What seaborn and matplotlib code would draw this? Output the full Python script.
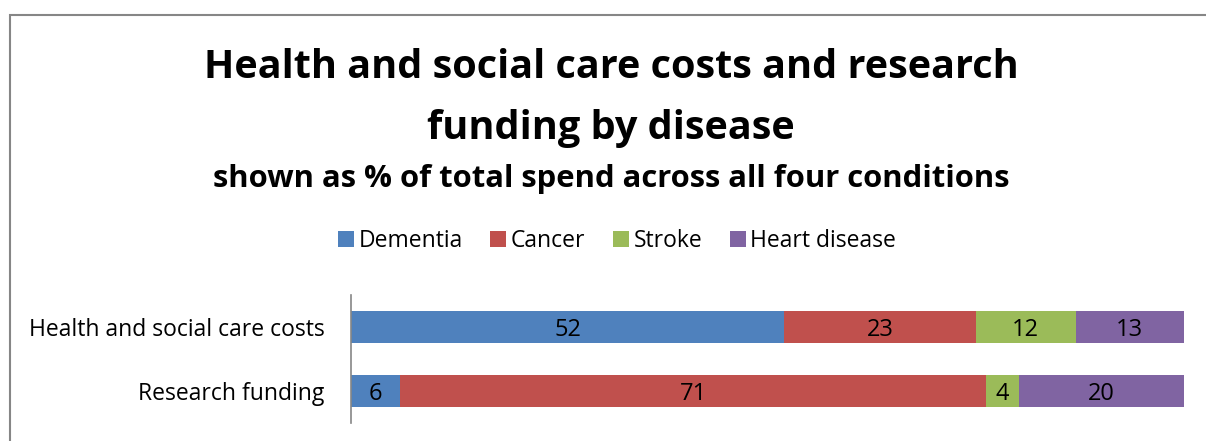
import matplotlib
matplotlib.use("Agg")
import matplotlib.pyplot as plt
from matplotlib.patches import Patch, Rectangle
import numpy as np
import pandas as pd
import seaborn as sns

# Data
categories = ["Health and social care costs", "Research funding"]
diseases = ["Dementia", "Cancer", "Stroke", "Heart disease"]
dementia = [52, 6]
cancer = [23, 71]
stroke = [12, 4]
heart_disease = [13, 20]
colors = ["#4F81BD", "#C0504D", "#9BBB59", "#8064A2"]

sns.set_theme(style="white")
plt.rcParams["font.family"] = ["Open Sans", "DejaVu Sans"]
plt.rcParams["text.color"] = "black"
plt.rcParams["axes.labelcolor"] = "black"

values = np.array([dementia, cancer, stroke, heart_disease], dtype=float)
# 100% stacked: each row scaled to its own total
shares = values / values.sum(axis=0) * 100
cum = np.cumsum(shares, axis=0)

fig = plt.figure(figsize=(12.06, 4.41), dpi=100)
W, H = 1206, 441

# Chart-area frame
fig.patches.append(Rectangle((10 / W, -0.1), 1.2, 1 - 15 / H + 0.1,
                             transform=fig.transFigure, fill=False,
                             edgecolor="#868686", linewidth=1.5))

ax = fig.add_axes([351 / W, 1 - 423 / H, (1184 - 351) / W, 128 / H])

# Draw cumulative totals back to front so each segment shows its own share
for i in range(len(diseases) - 1, -1, -1):
    df = pd.DataFrame({"category": categories, "value": cum[i]})
    sns.barplot(data=df, x="value", y="category", orient="h", color=colors[i],
                width=0.5, saturation=1, linewidth=0, ax=ax)

for i in range(len(diseases)):
    for j in range(len(categories)):
        center = cum[i, j] - shares[i, j] / 2
        ax.text(center, j, f"{int(values[i, j])}", ha="center",
                va="center_baseline", fontsize=17, color="black")

ax.set_xlim(0, 100)
ax.set_ylim(1.5, -0.5)
ax.set_xlabel("")
ax.set_ylabel("")
ax.set_xticks([])
for s in ["top", "right", "bottom"]:
    ax.spines[s].set_visible(False)
ax.spines["left"].set_color("#868686")
ax.spines["left"].set_linewidth(1.2)
ax.tick_params(axis="y", length=0, pad=19, labelsize=16.5, labelcolor="black")
ax.set_facecolor("none")

# Titles
fig.text(611 / W, 1 - 68 / H, "Health and social care costs and research",
         ha="center", va="center", fontsize=28.5, fontweight="bold")
fig.text(611 / W, 1 - 129 / H, "funding by disease",
         ha="center", va="center", fontsize=28.5, fontweight="bold")
fig.text(611 / W, 1 - 179 / H, "shown as % of total spend across all four conditions",
         ha="center", va="center", fontsize=22.3, fontweight="bold")

handles = [Patch(facecolor=c, edgecolor="none") for c in colors]
fig.legend(handles, diseases, loc="center", bbox_to_anchor=(617 / W, 1 - 241 / H),
           ncol=4, frameon=False, fontsize=16.5, handlelength=0.7, handleheight=0.7,
           handletextpad=0.2, columnspacing=1.2)

fig.savefig("out.png", dpi=100)
